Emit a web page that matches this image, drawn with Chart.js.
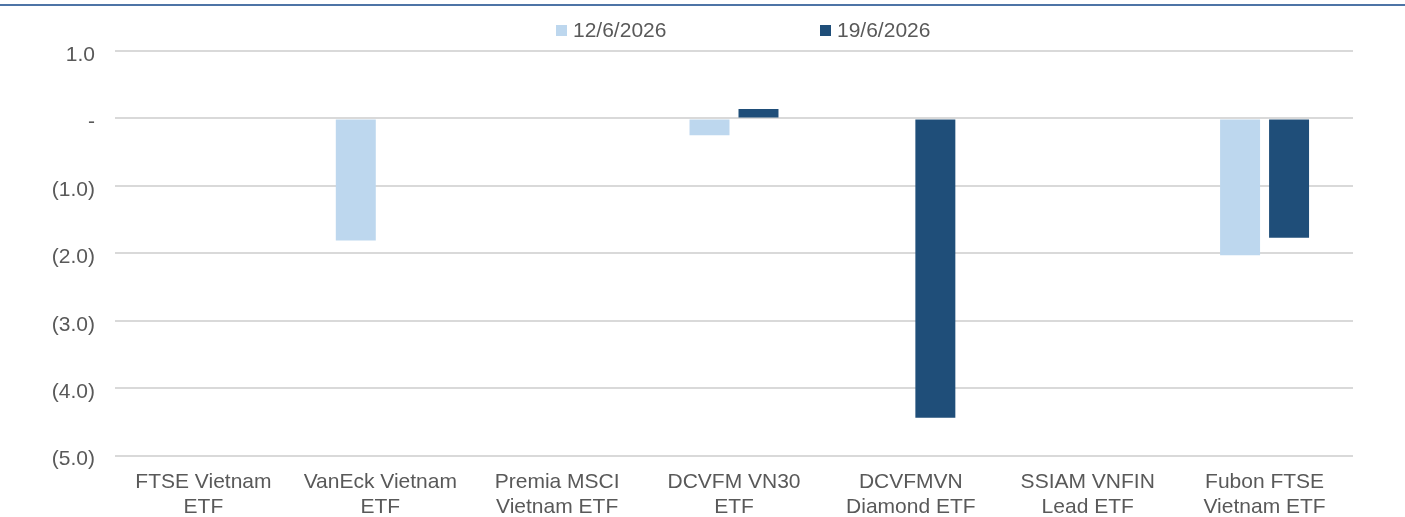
<!DOCTYPE html>
<html>
<head>
<meta charset="utf-8">
<script src="https://cdn.jsdelivr.net/npm/chart.js@4.4.1/dist/chart.umd.min.js"></script>
<style>
    html, body { margin: 0; padding: 0; background: #fff; }
    #wrap { position: relative; width: 1405px; height: 517px; overflow: hidden; font-family: Arial, "Liberation Sans", sans-serif; }
    #topline { position: absolute; left: 0; top: 4px; width: 1405px; height: 2px; background: #4d74a6; }
    #chart { position: absolute; left: 0; top: 0; }
    .lg-item { position: absolute; top: 18px; height: 24px; line-height: 24px; font-size: 21px; color: #595959; white-space: nowrap; }
    .lg-box { position: absolute; left: 0; top: 7px; width: 11px; height: 11px; }
    .lg-text { position: absolute; left: 17px; top: 0; }
</style>
</head>
<body>
<div id="wrap">
    <div id="topline"></div>
    <canvas id="chart" width="1405" height="517"></canvas>
    <div id="legend"></div>
</div>
<script>
// Quỹ ETF - giá trị mua/bán ròng theo tuần
var categories = [
    ['FTSE Vietnam', 'ETF'],
    ['VanEck Vietnam', 'ETF'],
    ['Premia MSCI', 'Vietnam ETF'],
    ['DCVFM VN30', 'ETF'],
    ['DCVFMVN', 'Diamond ETF'],
    ['SSIAM VNFIN', 'Lead ETF'],
    ['Fubon FTSE', 'Vietnam ETF']
];
var seriesNames = ['12/6/2026', '19/6/2026'];
var week1 = [0, -1.81, 0, -0.25, 0, 0, -2.03];
var week2 = [0, 0, 0, 0.14, -4.44, 0, -1.77];
var yTicks = [1, 0, -1, -2, -3, -4, -5];

var colors = ['#bdd7ee', '#1f4e79'];
var legendX = [556, 820];
var textColor = '#595959';
var fontFamily = 'Arial, "Liberation Sans", sans-serif';

function fmtTick(v) {
    if (Math.abs(v) < 1e-9) return '-';
    if (v < 0) return '(' + Math.abs(v).toFixed(1) + ')';
    return v.toFixed(1);
}

// legend viết bằng HTML (Chart.js dùng chung padding cho ngang và dọc)
var legendEl = document.getElementById('legend');
seriesNames.forEach(function(name, i) {
    var item = document.createElement('div');
    item.className = 'lg-item';
    item.style.left = legendX[i] + 'px';
    item.innerHTML = '<span class="lg-box" style="background:' + colors[i] + '"></span><span class="lg-text">' + name + '</span>';
    legendEl.appendChild(item);
});

new Chart(document.getElementById('chart'), {
    type: 'bar',
    data: {
        labels: categories,
        datasets: [{
            label: seriesNames[0],
            data: week1,
            backgroundColor: colors[0],
            categoryPercentage: 0.554,
            barPercentage: 0.816
        }, {
            label: seriesNames[1],
            data: week2,
            backgroundColor: colors[1],
            categoryPercentage: 0.554,
            barPercentage: 0.816
        }]
    },
    options: {
        responsive: false,
        animation: false,
        layout: { padding: { top: 51, right: 52, bottom: -17, left: 0 } },
        plugins: {
            legend: { display: false },
            tooltip: { enabled: false }
        },
        scales: {
            x: {
                grid: { display: false, drawTicks: false },
                border: { display: false },
                ticks: {
                    color: textColor,
                    padding: 14,
                    maxRotation: 0,
                    autoSkip: false,
                    font: { family: fontFamily, size: 21, lineHeight: 1.2 }
                }
            },
            y: {
                min: -5,
                max: 1,
                afterFit: function(scale) { scale.width = 115; },
                afterBuildTicks: function(scale) {
                    scale.ticks = yTicks.map(function(v) { return { value: v }; });
                },
                grid: { color: '#d9d9d9', lineWidth: 2, drawTicks: false },
                border: { display: false },
                ticks: {
                    color: textColor,
                    padding: 20,
                    labelOffset: 4,
                    callback: fmtTick,
                    font: { family: fontFamily, size: 21 }
                }
            }
        }
    }
});
</script>
</body>
</html>
